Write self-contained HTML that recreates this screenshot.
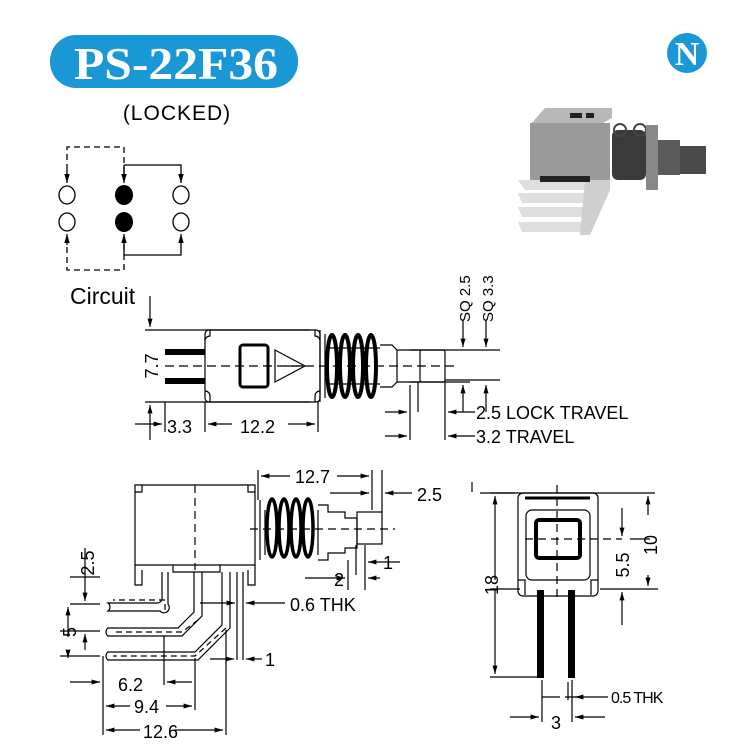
<!DOCTYPE html>
<html><head><meta charset="utf-8"><style>
html,body{margin:0;padding:0;background:#fff;}
svg{display:block;font-family:"Liberation Sans",Arial,sans-serif;}
</style></head><body>
<svg width="735" height="744" viewBox="0 0 735 744" xmlns="http://www.w3.org/2000/svg">
<defs>
<marker id="a" viewBox="0 0 10 10" refX="10" refY="5" markerWidth="7" markerHeight="7" orient="auto-start-reverse"><path d="M0,2 L10,5 L0,8 z" fill="#000"/></marker>
</defs>
<rect width="735" height="744" fill="#fff"/>
<!-- title -->
<rect x="50" y="35" width="248" height="53" rx="26" fill="#1a98d5"/>
<text x="176" y="79" text-anchor="middle" font-family="Liberation Serif,serif" font-weight="bold" font-size="46" fill="#fff" textLength="204" lengthAdjust="spacingAndGlyphs">PS-22F36</text>
<text x="177" y="120" text-anchor="middle" font-size="21" letter-spacing="1">(LOCKED)</text>
<circle cx="687" cy="53" r="20" fill="#1a98d5"/>
<text x="687" y="65" text-anchor="middle" font-family="Liberation Serif,serif" font-weight="bold" font-size="34" fill="#fff">N</text>

<!-- circuit -->
<g stroke="#000" stroke-width="1.3" fill="none">
<path d="M67,180 V147 H124 V180 M67,237 V270 H124 V237" stroke-dasharray="6,4"/>
<path d="M124,165 H181 V183" marker-end="url(#a)"/>
<path d="M124,165 V183" marker-end="url(#a)"/>
<path d="M124,255 H181 V234" marker-end="url(#a)"/>
<path d="M124,255 V234" marker-end="url(#a)"/>
<path d="M67,170 V183" marker-end="url(#a)"/>
<path d="M67,245 V234" marker-end="url(#a)"/>
<ellipse cx="67" cy="195" rx="8" ry="9"/><ellipse cx="67" cy="222" rx="8" ry="9"/>
<ellipse cx="181" cy="195" rx="8" ry="9"/><ellipse cx="181" cy="222" rx="8" ry="9"/>
</g>
<ellipse cx="124" cy="195" rx="9" ry="10" fill="#000"/><ellipse cx="124" cy="222" rx="9" ry="10" fill="#000"/>
<text x="70" y="304" font-size="23">Circuit</text>

<!-- photo -->
<g>
<path d="M530,125 L545,108 H612 L612,118 L600,125 Z" fill="#b8b8b8"/>
<rect x="530" y="123" width="80" height="62" fill="#9a9a9a"/>
<rect x="570" y="113" width="12" height="5" fill="#222"/><rect x="586" y="113" width="8" height="5" fill="#222"/>
<path d="M518,180 H600 V190 H525 Z M518,193 H595 V203 H522 Z M518,207 H590 V217 H522 Z M518,222 H583 V232 H522 Z" fill="#dedede"/>
<path d="M585,180 H610 V190 L590,235 H580 Z" fill="#cfcfcf"/>
<rect x="540" y="176" width="50" height="6" fill="#222"/>
<rect x="612" y="130" width="34" height="50" rx="6" fill="#3a3a3a"/>
<ellipse cx="620" cy="130" rx="6" ry="6" fill="none" stroke="#444" stroke-width="2"/><ellipse cx="640" cy="130" rx="6" ry="6" fill="none" stroke="#444" stroke-width="2"/>
<rect x="646" y="125" width="12" height="65" fill="#888"/>
<rect x="658" y="140" width="22" height="35" fill="#5a5a5a"/>
<rect x="680" y="146" width="26" height="28" fill="#4a4a4a"/>
</g>

<!-- side view top -->
<g stroke="#000" stroke-width="1.2" fill="none">
<path d="M145,330 H310 M145,402 H310" />
<rect x="205" y="330" width="115" height="72" rx="4"/>
<path d="M210,330 V336 A5,5 0 0 0 205,341 M210,402 V396 A5,5 0 0 0 205,391 M315,330 V336 A5,5 0 0 1 320,341 M315,402 V396 A5,5 0 0 1 320,391"/>
<rect x="240" y="345" width="28" height="42" rx="3" stroke-width="3"/>
<path d="M275,350 L305,366 L275,382 Z M285,366 H303"/>
<path d="M165,366 H455" stroke-dasharray="9,5"/>
<path d="M320,330 V402 M325,334 V398"/>
<path d="M327,348 H380 M327,384 H380"/>
<path d="M380,345 H392 L397,350 H420 M380,387 H392 L397,382 H420 M397,350 V382"/>
<rect x="420" y="350" width="25" height="32" rx="2"/>
<path d="M445,350 H500 M445,380 H500 M410,350 H470 M410,382 H470"/>
<path d="M150,296 V327" marker-end="url(#a)"/>
<path d="M150,440 V405" marker-end="url(#a)"/>
<path d="M165,402 V432 M205,402 V432 M318,402 V432"/>
<path d="M135,424 H162" marker-end="url(#a)"/>
<path d="M232,424 H208" marker-end="url(#a)"/>
<path d="M288,424 H315" marker-end="url(#a)"/>
<path d="M410,385 V440 M418,382 V412 M445,382 V440"/>
<path d="M385,412 H407" marker-end="url(#a)"/>
<path d="M385,436 H407" marker-end="url(#a)"/>
<path d="M475,412 H448" marker-end="url(#a)"/>
<path d="M475,436 H448" marker-end="url(#a)"/>
<path d="M463,320 V347" marker-end="url(#a)"/>
<path d="M486,320 V347" marker-end="url(#a)"/>
<path d="M463,412 V385" marker-end="url(#a)"/>
<path d="M486,412 V385" marker-end="url(#a)"/>
</g>
<g fill="#000" stroke="none">
<rect x="165" y="349" width="40" height="6"/><rect x="165" y="378" width="40" height="6"/>
</g>
<g stroke="#000" stroke-width="4" fill="none">
<ellipse cx="332" cy="366" rx="5" ry="31"/><ellipse cx="345" cy="366" rx="5" ry="31"/><ellipse cx="358" cy="366" rx="5" ry="31"/><ellipse cx="371" cy="366" rx="5" ry="31"/>
</g>
<text x="158" y="366" font-size="18" transform="rotate(-90 158 366)" text-anchor="middle">7.7</text>
<text x="167" y="433" font-size="18">3.3</text>
<text x="240" y="433" font-size="18">12.2</text>
<text x="476" y="419" font-size="18">2.5 LOCK  TRAVEL</text>
<text x="476" y="443" font-size="18">3.2 TRAVEL</text>
<text x="470" y="322" font-size="15" transform="rotate(-90 470 322)">SQ 2.5</text>
<text x="493" y="322" font-size="15" transform="rotate(-90 493 322)">SQ 3.3</text>

<!-- bottom-left side view -->
<g stroke="#000" stroke-width="1.2" fill="none">
<path d="M135,485 H255 V565 H135 Z"/>
<path d="M135,492 H142 V485 M255,492 H248 V485"/>
<path d="M135,565 V585 H142 V570 M255,565 V585 H248 V570"/>
<path d="M173,565 V572 H220 V565"/>
<path d="M195,485 V570" stroke-dasharray="8,5"/>
<path d="M260,500 V560 M265,510 V555 M318,510 V555"/>
<path d="M318,505 H328 V512 H345 V518 H357 V548 H345 V553 H328 V560 H318"/>
<rect x="357" y="512" width="25" height="32"/>
<path d="M250,529 H395" stroke-dasharray="8,5"/>
<path d="M162,572 V597 A5,5 0 0 1 157,603 H108 A5,5 0 0 1 108,611 H160 A5,5 0 0 0 168,604 V572"/>
<path d="M194,572 V612 L178,628 H108 A5,5 0 0 0 108,636 H182 L202,616 V572"/>
<path d="M222,572 V625 L195,652 H108 A5,5 0 0 0 108,660 H198 L230,628 V572"/>
<path d="M237,572 V660 M243,572 V660"/>
<path d="M165,610 V600 H113 M198,620 L182,632 H113 M226,628 L195,656 H113" stroke-dasharray="6,4"/>
<path d="M258,470 V500 M372,470 V510 M382,470 V512 M356,545 V575 M348,560 V590 M365,545 V590"/>
<path d="M290,476 H261" marker-end="url(#a)"/>
<path d="M337,476 H369" marker-end="url(#a)"/>
<path d="M330,493 H369" marker-end="url(#a)"/>
<path d="M412,493 H385" marker-end="url(#a)"/>
<path d="M305,578 H345" marker-end="url(#a)"/>
<path d="M380,578 H368" marker-end="url(#a)"/>
<path d="M400,562 H368" marker-end="url(#a)"/>
<path d="M70,577 H100 M70,604 H100 M60,631 H100 M60,656 H100"/>
<path d="M85,548 V601" marker-end="url(#a)"/>
<path d="M68,637 V607" marker-end="url(#a)"/>
<path d="M68,650 V658" marker-end="url(#a)"/>
<path d="M85,650 V634" marker-end="url(#a)"/>
<path d="M103,656 V735 M164,636 V685 M195,658 V710 M226,630 V735"/>
<path d="M200,603 H235" marker-end="url(#a)"/>
<path d="M285,603 H246" marker-end="url(#a)"/>
<path d="M210,659 H234" marker-end="url(#a)"/>
<path d="M262,659 H246" marker-end="url(#a)"/>
<path d="M70,682 H100" marker-end="url(#a)"/>
<path d="M192,682 H167" marker-end="url(#a)"/>
<path d="M130,706 H106" marker-end="url(#a)"/>
<path d="M166,706 H192" marker-end="url(#a)"/>
<path d="M140,730 H106" marker-end="url(#a)"/>
<path d="M175,730 H223" marker-end="url(#a)"/>
</g>
<g stroke="#000" stroke-width="3.5" fill="none">
<ellipse cx="272" cy="528" rx="5" ry="29"/><ellipse cx="284" cy="528" rx="5" ry="29"/><ellipse cx="296" cy="528" rx="5" ry="29"/><ellipse cx="308" cy="528" rx="5" ry="29"/>
</g>
<text x="295" y="483" font-size="18">12.7</text>
<text x="417" y="501" font-size="18">2.5</text>
<text x="383" y="569" font-size="18">1</text>
<text x="334" y="586" font-size="18">2</text>
<text x="290" y="611" font-size="18">0.6 THK</text>
<text x="265" y="666" font-size="18">1</text>
<text x="94" y="563" font-size="18" transform="rotate(-90 94 563)" text-anchor="middle">2.5</text>
<text x="76" y="632" font-size="18" transform="rotate(-90 76 632)" text-anchor="middle">5</text>
<text x="118" y="691" font-size="18">6.2</text>
<text x="134" y="713" font-size="18">9.4</text>
<text x="143" y="738" font-size="18">12.6</text>

<!-- front view -->
<g stroke="#000" stroke-width="1.2" fill="none">
<path d="M472,492 V482 M480,493 H655 M520,589 H490 M600,589 H658"/>
<rect x="518" y="493" width="80" height="103" rx="5"/>
<rect x="526" y="510" width="64" height="70" rx="6"/>
<rect x="536" y="520" width="44" height="38" rx="3" stroke-width="4"/>
<path d="M557,485 V600" stroke-dasharray="8,5"/>
<path d="M525,539 H622" stroke-dasharray="8,5"/>
<path d="M518,580 H525 V595 M598,580 H591 V595"/>
<path d="M525,498 H590" stroke-width="3"/>
<path d="M490,493 H515 M490,677 H540 M630,539 H650"/>
<path d="M495,580 V496" marker-end="url(#a)"/>
<path d="M495,590 V674" marker-end="url(#a)"/>
<path d="M648,515 V496" marker-end="url(#a)"/>
<path d="M648,575 V586" marker-end="url(#a)"/>
<path d="M622,508 V536" marker-end="url(#a)"/>
<path d="M622,625 V592" marker-end="url(#a)"/>
<path d="M542,680 V722 M572,680 V722 M568,682 V700"/>
<path d="M542,697 H560 M578,697 H565" />
<path d="M510,717 H539" marker-end="url(#a)"/>
<path d="M605,717 H575" marker-end="url(#a)"/>
<path d="M608,697 H575" marker-end="url(#a)"/>
</g>
<rect x="537" y="590" width="7" height="88" fill="#000"/>
<rect x="568" y="590" width="7" height="88" fill="#000"/>
<text x="498" y="585" font-size="18" transform="rotate(-90 498 585)" text-anchor="middle">18</text>
<text x="629" y="565" font-size="18" transform="rotate(-90 629 565)" text-anchor="middle">5.5</text>
<text x="657" y="545" font-size="18" transform="rotate(-90 657 545)" text-anchor="middle">10</text>
<text x="611" y="703" font-size="16" letter-spacing="-1">0.5 THK</text>
<text x="551" y="729" font-size="18">3</text>
</svg>
</body></html>
